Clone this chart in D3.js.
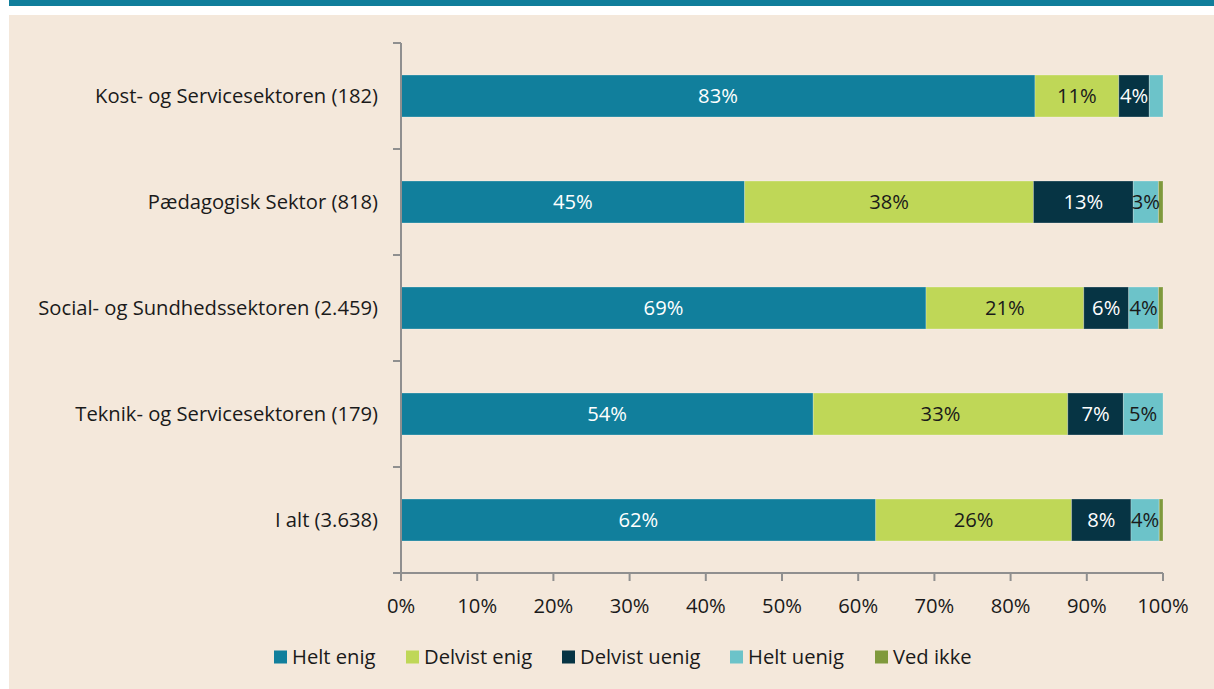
<!DOCTYPE html>
<html>
<head>
<meta charset="utf-8">
<script src="https://cdn.jsdelivr.net/npm/d3@7"></script>
<style>
  html, body { margin: 0; padding: 0; background: #ffffff; }
  svg { display: block; }
  text { font-family: "Open Sans", "Noto Sans", sans-serif; }
</style>
</head>
<body>
<svg id="chart" width="1214" height="689"></svg>
<script>
const categories = [
  "Kost- og Servicesektoren (182)",
  "Pædagogisk Sektor (818)",
  "Social- og Sundhedssektoren (2.459)",
  "Teknik- og Servicesektoren (179)",
  "I alt (3.638)"
];
const seriesNames = ["Helt enig", "Delvist enig", "Delvist uenig", "Helt uenig", "Ved ikke"];
const heltEnig     = [83.2, 45.1, 68.9, 54.1, 62.3];
const delvistEnig  = [11.0, 37.9, 20.7, 33.4, 25.7];
const delvistUenig = [4.0, 13.1, 5.9, 7.3, 7.8];
const heltUenig    = [1.8, 3.3, 3.9, 5.2, 3.7];
const vedIkke      = [0.0, 0.6, 0.6, 0.0, 0.5];
const xTicks = [0, 10, 20, 30, 40, 50, 60, 70, 80, 90, 100];

const colors = ["#117f9c", "#bfd757", "#063444", "#6cc3c9", "#7f993c"];
const labelColors = ["#ffffff", "#1a1a1a", "#ffffff", "#1a1a1a", "#1a1a1a"];

const seriesValues = [heltEnig, delvistEnig, delvistUenig, heltUenig, vedIkke];
const rows = categories.map((c, i) => {
  const r = { cat: c };
  seriesNames.forEach((s, j) => r[s] = seriesValues[j][i]);
  return r;
});
const stacked = d3.stack().keys(seriesNames)(rows);

const svg = d3.select("#chart");
svg.append("rect").attr("x", 9).attr("y", 0).attr("width", 1205).attr("height", 6).attr("fill", "#107e9b");
svg.append("rect").attr("x", 9).attr("y", 15).attr("width", 1205).attr("height", 674).attr("fill", "#f4e8db");

const plotLeft = 401, plotRight = 1163, plotTop = 43, plotBottom = 573;
const x = d3.scaleLinear().domain([0, 100]).range([plotLeft, plotRight]);
const y = d3.scaleBand().domain(categories).range([plotTop, plotBottom]).paddingInner(0.604).paddingOuter(0.302);

const fontSize = 20.2;

const g = svg.append("g");
stacked.forEach((layer, j) => {
  g.selectAll(null).data(layer).enter().append("rect")
    .attr("x", d => x(d[0]))
    .attr("y", d => y(d.data.cat))
    .attr("width", d => x(d[1]) - x(d[0]))
    .attr("height", y.bandwidth())
    .attr("fill", colors[j])
    .attr("stroke", "rgba(255,255,255,0.25)")
    .attr("stroke-width", 1);
});
stacked.forEach((layer, j) => {
  g.selectAll(null).data(layer.filter(d => d[1] - d[0] >= 2.5)).enter().append("text")
    .attr("x", d => (x(d[0]) + x(d[1])) / 2)
    .attr("y", d => y(d.data.cat) + y.bandwidth() / 2)
    .attr("dy", "0.35em")
    .attr("text-anchor", "middle")
    .attr("font-size", fontSize)
    .attr("fill", labelColors[j])
    .text(d => Math.round(d[1] - d[0]) + "%");
});

const axisColor = "#8f8f8f";
const yAxis = svg.append("g").attr("transform", `translate(${plotLeft},0)`);
yAxis.append("line").attr("x1", 0).attr("x2", 0).attr("y1", plotTop).attr("y2", plotBottom)
  .attr("stroke", axisColor).attr("stroke-width", 2);
const yBounds = d3.range(categories.length + 1).map(i => plotTop + i * y.step());
yAxis.selectAll(null).data(yBounds).enter().append("line")
  .attr("x1", -8).attr("x2", 0).attr("y1", d => d).attr("y2", d => d)
  .attr("stroke", axisColor).attr("stroke-width", 2);
yAxis.selectAll(null).data(categories).enter().append("text")
  .attr("x", -23)
  .attr("y", d => y(d) + y.bandwidth() / 2)
  .attr("dy", "0.35em")
  .attr("text-anchor", "end")
  .attr("font-size", fontSize)
  .attr("fill", "#1a1a1a")
  .text(d => d);

const xAxis = svg.append("g").attr("transform", `translate(0,${plotBottom})`);
xAxis.append("line").attr("x1", plotLeft - 8).attr("x2", plotRight).attr("y1", 0).attr("y2", 0)
  .attr("stroke", axisColor).attr("stroke-width", 2);
xAxis.selectAll(null).data(xTicks).enter().append("line")
  .attr("x1", d => x(d)).attr("x2", d => x(d)).attr("y1", 0).attr("y2", 8)
  .attr("stroke", axisColor).attr("stroke-width", 2);
xAxis.selectAll(null).data(xTicks).enter().append("text")
  .attr("x", d => x(d)).attr("y", 33)
  .attr("dy", "0.35em")
  .attr("text-anchor", "middle")
  .attr("font-size", fontSize)
  .attr("fill", "#1a1a1a")
  .text(d => d + "%");

const legendX = [274, 406, 562, 730, 875];
const legend = svg.append("g").attr("transform", "translate(0,657)");
seriesNames.forEach((s, j) => {
  legend.append("rect").attr("x", legendX[j]).attr("y", -6.5).attr("width", 13).attr("height", 13).attr("fill", colors[j]);
  legend.append("text").attr("x", legendX[j] + 18).attr("y", 0).attr("dy", "0.35em")
    .attr("font-size", fontSize).attr("fill", "#1a1a1a").text(s);
});
</script>
</body>
</html>
